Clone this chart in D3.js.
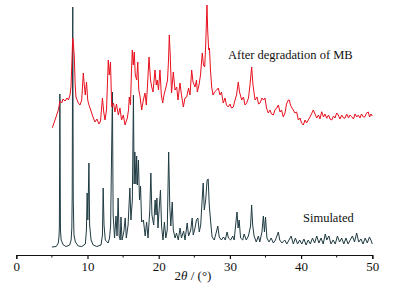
<!DOCTYPE html>
<html>
<head>
<meta charset="utf-8">
<script src="https://cdn.jsdelivr.net/npm/d3@7"></script>
<style>
  body { margin: 0; background: #fff; }
  svg { display: block; }
</style>
</head>
<body>
<div id="vis"></div>
<script>
// x ticks
const xTicks = [0, 10, 20, 30, 40, 50];
const xMinor = [5, 15, 25, 35, 45];

// simulated pattern, [2theta, intensity]
const simulated = [
  [5.0,3.2],[5.6,3.4],[5.9,4.8],[6.0,7.6],[6.05,11.2],[6.12,64.4],[6.2,10],[6.3,6],[6.6,4],[7.0,3.4],
  [7.5,4],[7.7,6],[7.8,10.8],[7.85,23.2],[7.93,99.2],[8.0,22],[8.1,8],[8.3,5.2],[8.7,3.6],[9.2,3.4],
  [9.7,4.4],[9.85,10],[9.95,24.8],[10.05,14],[10.2,36.8],[10.3,12],[10.5,6],[10.8,4],[11.3,3.4],[11.9,4],
  [12.1,8],[12.2,26.8],[12.32,12],[12.5,6],[12.9,4.8],[13.1,6.8],[13.25,12],[13.5,65.2],[13.6,16],[13.8,6.8],
  [14.0,15.6],[14.15,7.6],[14.3,22.8],[14.45,7.6],[14.6,6],[14.7,15.2],[14.85,6],[15.1,9.2],[15.3,14.8],[15.45,6.8],
  [15.7,12],[15.95,26.8],[16.1,14],[16.3,22],[16.45,64],[16.55,28.4],[16.65,41.2],[16.8,28.4],[16.9,39.6],[17.0,28],
  [17.15,38],[17.3,22],[17.45,27.6],[17.6,13.2],[17.85,14],[18.1,7.6],[18.3,13.2],[18.5,6.8],[18.75,18],[18.9,32.8],
  [19.05,16],[19.3,12],[19.5,22],[19.62,16],[19.75,22.8],[19.9,10.8],[20.1,20],[20.25,26],[20.4,11.6],[20.6,6],
  [20.8,13.2],[21.0,6.8],[21.2,10],[21.4,41.2],[21.55,20],[21.7,11.6],[21.9,21.2],[22.05,10],[22.3,6.8],[22.5,8.8],
  [22.75,6],[23.0,10.8],[23.2,6.8],[23.5,9.6],[23.7,6],[24.0,12.8],[24.2,7.6],[24.5,10],[24.7,14.8],[24.85,8],
  [25.1,10.8],[25.3,14],[25.5,14.8],[25.7,9.2],[25.9,12],[26.1,22],[26.25,28.8],[26.4,18],[26.6,22],[26.8,30],
  [26.95,30.4],[27.1,20],[27.3,13.2],[27.5,7.2],[27.8,6],[28.1,9.2],[28.3,11.6],[28.5,7.2],[28.8,6],[29.1,7.2],
  [29.35,6],[29.6,9.2],[29.8,6.8],[30.1,6],[30.4,7.6],[30.6,6],[30.85,13.2],[31.0,17.2],[31.15,10.8],[31.3,14],
  [31.5,6.8],[31.8,6],[32.0,8.4],[32.3,6],[32.6,7.6],[32.9,11.6],[33.05,20],[33.2,12],[33.4,7.6],[33.7,5.2],
  [34.0,7.6],[34.2,5.2],[34.5,9.2],[34.7,15.6],[34.85,9.2],[35.0,15.2],[35.2,6.8],[35.5,5.2],[35.8,6.8],[36.1,4.8],
  [36.4,6],[36.8,9.2],[37.0,6],[37.3,4.8],[37.7,6],[38.0,4.4],[38.3,6],[38.6,7.6],[38.9,4.4],[39.2,6.8],
  [39.5,4.4],[39.8,6],[40.1,4.4],[40.4,6.4],[40.7,4],[41.0,6],[41.3,4.4],[41.6,6.8],[41.9,4.8],[42.2,7.6],
  [42.5,4.8],[42.8,6.8],[43.1,4.4],[43.4,8.4],[43.6,6],[43.9,7.6],[44.2,4.4],[44.5,6],[44.8,4.4],[45.1,7.6],
  [45.4,5.2],[45.7,6.8],[46.0,4.4],[46.3,6.8],[46.6,4.4],[46.9,6],[47.2,7.6],[47.5,5.2],[47.8,8.8],[48.1,5.2],
  [48.4,6.4],[48.7,4.4],[49.0,6.8],[49.3,4.8],[49.6,7.2],[49.8,6],[50.0,4.4]
];

// pattern after degradation of MB, [2theta, intensity]
const degraded = [
  [5.06,50.9],[5.44,54],[5.9,58],[6.14,61.6],[6.38,60.8],[6.56,62.4],[6.84,61.6],[7.12,62.8],[7.33,62],[7.54,64],
  [7.68,67.2],[7.82,78],[7.92,86.8],[8.03,84],[8.15,79.2],[8.27,68],[8.38,63.2],[8.71,60.8],[8.95,60],[9.19,62],
  [9.41,72.8],[9.55,68],[9.69,64],[9.86,69.2],[10.03,62],[10.21,60],[10.45,58],[10.77,55.2],[11.05,53.2],[11.33,54.4],
  [11.61,52.4],[11.83,53.6],[12.1,62.8],[12.28,57.2],[12.46,54],[12.67,58],[12.92,78],[13.06,72],[13.23,77.2],[13.4,59.2],
  [13.65,60.8],[13.86,57.2],[14.07,60.4],[14.33,56],[14.56,58.8],[14.78,54],[15.03,56],[15.27,52],[15.59,54.8],[15.76,58],
  [15.87,63.2],[16.04,60],[16.18,74],[16.29,82],[16.43,76],[16.57,81.2],[16.71,72],[16.91,70],[17.06,77.2],[17.2,66],
  [17.37,63.6],[17.61,58],[17.84,62],[18.08,64.8],[18.26,60],[18.43,68],[18.64,79.2],[18.85,70],[19.02,67.2],[19.2,65.2],
  [19.48,74],[19.66,68],[19.8,70],[19.97,66],[20.18,74],[20.37,64],[20.56,60.8],[20.74,64],[21.03,67.2],[21.24,70],
  [21.38,78],[21.49,88],[21.62,80],[21.8,64.8],[22.05,73.2],[22.29,66],[22.53,67.2],[22.71,62],[22.99,68.8],[23.2,64],
  [23.46,59.2],[23.69,62.8],[23.93,63.2],[24.19,66.8],[24.4,64],[24.63,74],[24.82,69.2],[25.1,67.2],[25.31,70],[25.42,65.2],
  [25.66,68],[25.87,72],[26.12,80.8],[26.29,76],[26.46,75.2],[26.6,84],[26.71,94],[26.78,100],[26.88,90],[27.02,82],
  [27.13,82.8],[27.27,74],[27.44,67.2],[27.63,64],[27.84,65.2],[28.15,66],[28.37,66.8],[28.61,64],[28.82,65.2],[29.07,60.8],
  [29.31,62.8],[29.52,60],[29.78,59.2],[30.01,60.4],[30.22,58.8],[30.48,59.2],[30.72,62],[30.93,64],[31.18,69.2],[31.35,65.2],
  [31.66,62],[31.91,63.2],[32.12,60],[32.36,60.8],[32.61,62.8],[32.82,68],[33.06,75.2],[33.24,68],[33.53,62],[33.81,63.2],
  [34.02,60.4],[34.23,60.8],[34.51,62.8],[34.72,62],[34.93,62.8],[35.14,58.8],[35.39,56.8],[35.63,58],[35.84,56.4],[36.1,56],
  [36.33,58],[36.57,58.8],[36.8,60],[37.04,57.2],[37.25,58],[37.5,55.2],[37.74,56.8],[37.95,60.4],[38.2,62],[38.34,62],
  [38.51,60],[38.72,58.8],[38.9,58],[39.14,56.8],[39.38,57.2],[39.61,54],[39.85,54.8],[40.06,52.8],[40.31,52],[40.55,54],
  [40.76,52.8],[41.01,54],[41.25,55.2],[41.46,56.4],[41.71,58],[41.95,56.4],[42.19,54.8],[42.44,56],[42.65,54.4],[42.89,57.3],
  [43.15,55.2],[43.36,56.4],[43.6,54.7],[43.85,56],[44.06,54.4],[44.3,54],[44.55,55.6],[44.76,54.8],[45.0,56.8],[45.22,56],
  [45.46,54.4],[45.7,56],[45.96,54.8],[46.17,54.7],[46.4,56.4],[46.66,54.8],[46.87,56],[47.11,55.3],[47.36,54.4],[47.57,56.4],
  [47.81,55.2],[48.03,56],[48.27,54.8],[48.48,56.4],[48.74,55.2],[48.97,55.3],[49.19,56.8],[49.44,57.2],[49.61,55.2],[49.82,56.4],
  [50.0,55.6]
];

const width = 399
const height = 294

const svg = d3.select("#vis")
  .append("svg")
  .attr("width", width)
  .attr("height", height)
  .style("font-family", "'Liberation Serif', 'DejaVu Serif', serif");

svg.append("rect")
  .attr("width", width)
  .attr("height", height)
  .attr("fill", "white");

const x = d3.scaleLinear().domain([0, 50]).range([16.3, 372.3]);
const y = d3.scaleLinear().domain([0, 100]).range([255, 5]);

const line = d3.line()
  .x(d => x(d[0]))
  .y(d => y(d[1]));

// simulated trace
svg.append("path")
  .datum(simulated)
  .attr("fill", "none")
  .attr("stroke", "#1f3b42")
  .attr("stroke-width", 1)
  .attr("stroke-linejoin", "round")
  .attr("d", line);

// trace after degradation
svg.append("path")
  .datum(degraded)
  .attr("fill", "none")
  .attr("stroke", "#e8101e")
  .attr("stroke-width", 1)
  .attr("stroke-linejoin", "round")
  .attr("d", line);

// x axis
const xAxis = svg.append("g")
  .attr("transform", "translate(0,255)")
  .call(d3.axisBottom(x).tickValues(xTicks).tickSize(4).tickPadding(3).tickFormat(d3.format("d")));

xAxis.select(".domain").attr("stroke", "#111").attr("stroke-width", 1.2);
xAxis.selectAll(".tick line").attr("stroke", "#111").attr("stroke-width", 1.2);
xAxis.selectAll(".tick text")
  .attr("fill", "#111")
  .style("font-family", "'Liberation Serif', serif")
  .style("font-size", "13px");

svg.append("g")
  .selectAll("line")
  .data(xMinor)
  .join("line")
    .attr("x1", d => x(d))
    .attr("x2", d => x(d))
    .attr("y1", 255)
    .attr("y2", 257.5)
    .attr("stroke", "#111")
    .attr("stroke-width", 1);

// axis title
const title = svg.append("text")
  .attr("x", 193)
  .attr("y", 280)
  .attr("text-anchor", "middle")
  .attr("fill", "#111")
  .style("font-size", "13px");
title.append("tspan").text("2");
title.append("tspan").attr("font-style", "italic").text("θ");
title.append("tspan").text(" / (°)");

// labels
svg.append("text")
  .attr("x", 228)
  .attr("y", 59)
  .attr("fill", "#111")
  .style("font-size", "12.5px")
  .text("After degradation of MB");

svg.append("text")
  .attr("x", 303)
  .attr("y", 222)
  .attr("fill", "#111")
  .style("font-size", "12.5px")
  .text("Simulated");
</script>
</body>
</html>
